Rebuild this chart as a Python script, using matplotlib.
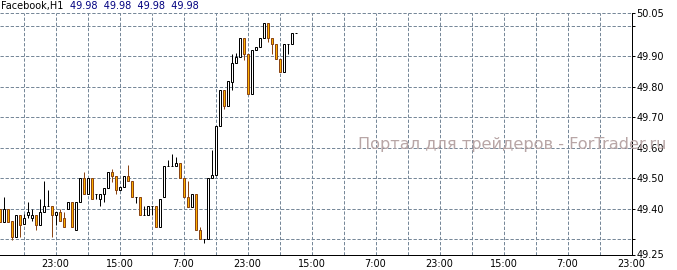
import matplotlib
matplotlib.use("Agg")
import matplotlib.pyplot as plt
from matplotlib.patches import Rectangle
import numpy as np

# ---------------- data (hourly candles, Facebook H1) ----------------
opens = [49.398, 49.357, 49.398, 49.360, 49.308, 49.379, 49.350, 49.378, 49.369, 49.378,
         49.348, 49.388, 49.408, 49.408, 49.378, 49.388, 49.370, 49.398, 49.421, 49.330,
         49.421, 49.500, 49.449, 49.500, 49.449, 49.431, 49.449, 49.469, 49.519, 49.508,
         49.461, 49.470, 49.509, 49.490, 49.439, 49.439, 49.378, 49.378, 49.408, 49.408,
         49.339, 49.439, 49.540, 49.540, 49.540, 49.549, 49.500, 49.439, 49.407, 49.450,
         49.330, 49.300, 49.300, 49.500, 49.510, 49.671, 49.789, 49.738, 49.816, 49.877,
         49.898, 49.959, 49.909, 49.778, 49.920, 49.929, 49.959, 50.008, 49.959, 49.939,
         49.890, 49.847, 49.939, 49.939, 49.978]
highs = [49.398, 49.440, 49.398, 49.360, 49.379, 49.379, 49.383, 49.421, 49.398, 49.378,
         49.431, 49.491, 49.461, 49.408, 49.388, 49.398, 49.390, 49.421, 49.421, 49.421,
         49.500, 49.519, 49.500, 49.500, 49.449, 49.449, 49.469, 49.519, 49.529, 49.508,
         49.470, 49.509, 49.542, 49.490, 49.439, 49.439, 49.408, 49.408, 49.408, 49.408,
         49.431, 49.540, 49.560, 49.579, 49.571, 49.549, 49.500, 49.491, 49.450, 49.450,
         49.339, 49.300, 49.500, 49.592, 49.671, 49.789, 49.789, 49.820, 49.909, 49.911,
         49.959, 49.959, 49.909, 49.920, 49.929, 49.959, 50.008, 50.008, 49.959, 49.939,
         49.890, 49.939, 49.939, 49.978, 49.978]
lows = [49.357, 49.357, 49.357, 49.297, 49.308, 49.308, 49.350, 49.369, 49.361, 49.330,
        49.348, 49.388, 49.408, 49.308, 49.348, 49.359, 49.339, 49.398, 49.339, 49.330,
        49.421, 49.449, 49.449, 49.431, 49.431, 49.408, 49.421, 49.469, 49.489, 49.449,
        49.461, 49.470, 49.490, 49.439, 49.420, 49.378, 49.378, 49.378, 49.378, 49.339,
        49.339, 49.439, 49.540, 49.540, 49.540, 49.500, 49.439, 49.407, 49.407, 49.330,
        49.300, 49.289, 49.300, 49.500, 49.510, 49.671, 49.727, 49.738, 49.789, 49.877,
        49.898, 49.888, 49.778, 49.778, 49.920, 49.929, 49.959, 49.948, 49.909, 49.890,
        49.847, 49.847, 49.909, 49.939, 49.978]
closes = [49.357, 49.398, 49.357, 49.306, 49.379, 49.348, 49.369, 49.388, 49.378, 49.348,
          49.388, 49.408, 49.408, 49.378, 49.388, 49.359, 49.339, 49.421, 49.339, 49.421,
          49.500, 49.449, 49.500, 49.431, 49.449, 49.449, 49.469, 49.519, 49.508, 49.461,
          49.470, 49.509, 49.490, 49.439, 49.439, 49.378, 49.378, 49.408, 49.408, 49.339,
          49.431, 49.540, 49.540, 49.540, 49.549, 49.500, 49.439, 49.407, 49.450, 49.330,
          49.300, 49.300, 49.500, 49.510, 49.671, 49.789, 49.738, 49.820, 49.877, 49.898,
          49.959, 49.909, 49.778, 49.920, 49.929, 49.959, 50.008, 49.959, 49.939, 49.890,
          49.847, 49.939, 49.939, 49.978, 49.978]

symbol = "Facebook,H1"
price_min = 49.25
price_top = 50.043
price_tick_values = [49.25, 49.30, 49.40, 49.50, 49.60, 49.70, 49.80, 49.90, 50.00, price_top]
price_tick_labels = ["49.25", "", "49.40", "49.50", "49.60", "49.70", "49.80", "49.90", "", "50.05"]
grid_prices = [49.30, 49.40, 49.50, 49.60, 49.70, 49.80, 49.90, 50.00, price_top]
time_labels = ["23:00", "15:00", "7:00", "23:00", "15:00", "7:00", "23:00", "15:00", "7:00", "23:00"]
first_label_bar = 15
bars_per_label = 16
bars_per_grid = 8
total_bars = 158
watermark = "Портал для трейдеров - ForTrader.ru"

# ---------------- styling ----------------
W, H = 677, 270
GRID = "#778899"
BEAR_FILL = "#FFB000"
BEAR_EDGE = "#8B4513"
LW = 0.72  # 1 px
DASH = (0, (3.3, 1.8))

fig = plt.figure(figsize=(W / 100, H / 100), dpi=100)
fig.patch.set_facecolor("white")
ax_left, ax_right = 0, 632
ax_top, ax_bottom = 12.7, 254.5
ax = fig.add_axes([ax_left / W, (H - ax_bottom) / H, (ax_right - ax_left) / W, (ax_bottom - ax_top) / H])
ax.set_facecolor("white")

x = np.arange(1, len(opens) + 1)
x_left = 1.125
ax.set_xlim(x_left, x_left + total_bars)
ax.set_ylim(price_min, price_top)

# grid
for p in grid_prices:
    ax.axhline(p, color=GRID, lw=LW, ls=DASH, zorder=0, clip_on=False)
for b in range(first_label_bar - bars_per_grid, int(x_left + total_bars) - 1, bars_per_grid):
    ax.axvline(b, color=GRID, lw=LW, ls=DASH, zorder=0)

# candles
body_w = 0.5
for xi, o, h, l, c in zip(x, opens, highs, lows, closes):
    bear = c < o
    edge = BEAR_EDGE if bear else "black"
    face = BEAR_FILL if bear else "white"
    ax.vlines(xi, l, h, color=edge, lw=LW, zorder=2)
    lo, hi = min(o, c), max(o, c)
    ax.add_patch(Rectangle((xi - body_w / 2, lo), body_w, hi - lo,
                           facecolor=face, edgecolor=edge, lw=LW, zorder=3))

# spines
for s in ["top", "left"]:
    ax.spines[s].set_visible(False)
for s in ["bottom", "right"]:
    ax.spines[s].set_color("black")
    ax.spines[s].set_linewidth(LW)

# right price axis
ax.yaxis.tick_right()
ax.set_yticks(price_tick_values)
ax.set_yticklabels(price_tick_labels)
ax.tick_params(axis="y", direction="out", length=2.3, width=LW, pad=0.8,
               labelsize=7, colors="black")

# time axis
label_bars = [first_label_bar + bars_per_label * i for i in range(len(time_labels))]
ax.set_xticks(label_bars)
ax.set_xticklabels(time_labels)
ax.tick_params(axis="x", length=0, pad=3.4, labelsize=7, colors="black")
for t in ax.get_yticklabels() + ax.get_xticklabels():
    t.set_fontfamily("DejaVu Sans")

# header
last = -1
fig.text(1 / W, 1 - 9 / H, symbol, fontsize=7, color="black", va="baseline", ha="left")
fig.text(70 / W, 1 - 9 / H,
         "  ".join(f"{v:.2f}" for v in (opens[last], highs[last], lows[last], closes[last])),
         fontsize=7, color="#000080", va="baseline", ha="left")

# watermark
fig.text(358 / W, 1 - 149 / H, watermark, fontsize=11.6, color="#B8A6A6",
         va="baseline", ha="left", zorder=10)

fig.savefig("out.png", dpi=100)
